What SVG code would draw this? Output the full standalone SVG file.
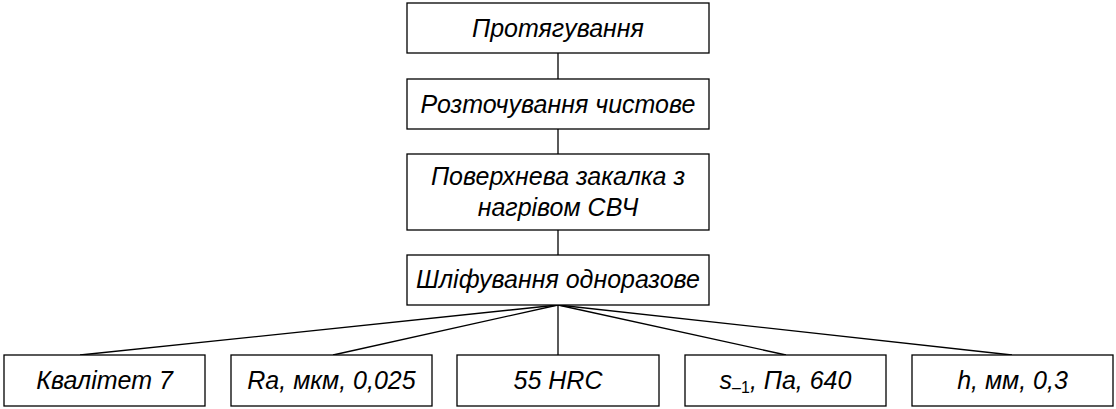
<svg xmlns="http://www.w3.org/2000/svg" width="1116" height="409" viewBox="0 0 1116 409">
<style>
rect{fill:#fff;stroke:#000;stroke-width:1.3}
text{font-family:"Liberation Sans",Arial,sans-serif;font-style:italic;font-size:25px;fill:#000;text-anchor:middle}
line{stroke:#000;stroke-width:1.3}
</style>
<rect width="1116" height="409" style="fill:#fff;stroke:none"/>
<g id="connectors">
<line x1="558" y1="53" x2="558" y2="79"/>
<line x1="558" y1="129" x2="558" y2="154"/>
<line x1="558" y1="230" x2="558" y2="255"/>
<line x1="558" y1="305" x2="80" y2="355"/>
<line x1="558" y1="305" x2="333" y2="355"/>
<line x1="558" y1="305" x2="558" y2="355"/>
<line x1="558" y1="305" x2="786" y2="355"/>
<line x1="558" y1="305" x2="1012" y2="355"/>
</g>
<g id="n1"><rect x="407" y="3" width="302" height="50"/><text x="558" y="37">Протягування</text></g>
<g id="n2"><rect x="407" y="79" width="302" height="50"/><text x="558" y="113">Розточування чистове</text></g>
<g id="n3"><rect x="407" y="154" width="302" height="76"/><text x="558" y="185">Поверхнева закалка з</text><text x="558" y="216">нагрівом СВЧ</text></g>
<g id="n4"><rect x="407" y="255" width="302" height="50"/><text x="558" y="288">Шліфування одноразове</text></g>
<g id="b1"><rect x="4" y="355" width="201" height="51"/><text x="104.5" y="389">Квалітет 7</text></g>
<g id="b2"><rect x="231" y="355" width="201" height="51"/><text x="331.5" y="389">Ra, мкм, 0,025</text></g>
<g id="b3"><rect x="457" y="355" width="202" height="51"/><text x="558" y="389">55 HRC</text></g>
<g id="b4"><rect x="685" y="355" width="201" height="51"/><text x="785.5" y="389">s<tspan font-size="16" font-style="normal" dy="4">–1</tspan><tspan dy="-4">, Па, 640</tspan></text></g>
<g id="b5"><rect x="912" y="355" width="201" height="51"/><text x="1012.5" y="389">h, мм, 0,3</text></g>
</svg>
